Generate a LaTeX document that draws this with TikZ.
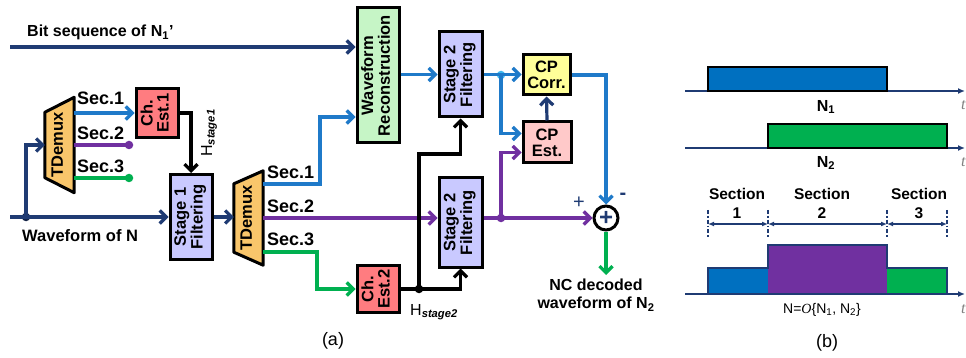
\documentclass[tikz,border=0pt]{standalone}
\usepackage{fontspec}
\setmainfont{Liberation Sans}
\newfontfamily\serifit{Liberation Serif}
\usepackage{graphicx}
\usetikzlibrary{arrows.meta,positioning,backgrounds,calc}
\definecolor{navy}{HTML}{1F3B73}
\definecolor{lblue}{HTML}{1F7AC9}
\definecolor{purp}{HTML}{7030A0}
\definecolor{grn}{HTML}{00B050}
\definecolor{sblue}{HTML}{0070C0}
\definecolor{dotblue}{HTML}{3DB8F0}
\definecolor{recfill}{HTML}{C6F5C6}
\definecolor{filtfill}{HTML}{C9C9FF}
\definecolor{chfill}{HTML}{FF7C80}
\definecolor{corrfill}{HTML}{FFFF99}
\definecolor{estfill}{HTML}{FFC9C9}
\definecolor{dmxfill}{HTML}{F9C66B}
\newcommand{\rottext}[1]{\rotatebox{90}{\begin{tabular}{@{}c@{}}#1\end{tabular}}}
\tikzset{
    blk/.style={draw, line width=3pt, inner sep=0pt, align=center,
        font=\bfseries\fontsize{16.5}{16}\selectfont},
    demux/.style={inner sep=0pt, minimum width=29pt,
        font=\bfseries\fontsize{16.5}{16}\selectfont},
    dmxshape/.style={draw, line width=3pt, fill=dmxfill, line join=round},
    sig/.style={line width=3.2pt, -{Straight Barb[length=6.5pt,width=13pt]}},
    wire/.style={line width=3.2pt},
    dot/.style={circle, fill, inner sep=0pt, minimum size=8.5pt},
    lbl/.style={inner sep=0pt, font=\bfseries\fontsize{16}{18}\selectfont},
    seclbl/.style={inner sep=0pt, anchor=base west, font=\bfseries\fontsize{18}{18}\selectfont}
}

\begin{document}
\begin{tikzpicture}[x=1pt, y=-1pt,
    axis/.style={navy, line width=2pt, -{Latex[length=7pt,width=6pt]}},
    dim/.style={navy, line width=1.8pt, {Latex[length=6pt,width=5pt]}-{Latex[length=6pt,width=5pt]}},
    tlbl/.style={inner sep=0pt, text=gray, font=\serifit\itshape\fontsize{16}{16}\selectfont}
]
\useasboundingbox (0,0) rectangle (966,358);

% receiver chain (a)
\node[demux, minimum height=95pt] (dmxA) at (59.5,145) {\rottext{TDemux}};
\node[blk, fill=chfill, minimum width=42pt, minimum height=49pt] (chA) at (157,113) {\rottext{Ch.\\Est.1}};
\node[blk, fill=filtfill, minimum width=42pt, minimum height=85pt] (fltA) at (191,217) {\rottext{Stage 1\\Filtering}};
\node[demux, minimum height=94pt] (dmxB) at (248.5,218) {\rottext{TDemux}};
\node[blk, fill=recfill, minimum width=42pt, minimum height=135pt] (rec) at (378,75.5) {\rottext{Waveform\\Reconstruction}};
\node[blk, fill=chfill, minimum width=42pt, minimum height=47pt] (chB) at (378,289) {\rottext{Ch.\\Est.2}};
\node[blk, fill=filtfill, minimum width=43pt, minimum height=85pt] (fltB) at (460.5,74.5) {\rottext{Stage 2\\Filtering}};
\node[blk, fill=filtfill, minimum width=43pt, minimum height=89pt] (fltC) at (460.5,222.5) {\rottext{Stage 2\\Filtering}};
\node[blk, fill=corrfill, minimum width=47pt, minimum height=40pt] (corr) at (546.5,75) {CP\\Corr.};
\node[blk, fill=estfill, minimum width=48pt, minimum height=41pt] (est) at (547,142.5) {CP\\Est.};
\node[circle, draw, fill=white, line width=3pt, minimum size=24pt, inner sep=0pt,
    text=navy, font=\bfseries\fontsize{24}{24}\selectfont] (sum) at (606,218) {+};

\begin{scope}[on background layer]
\draw[dmxshape] (dmxA.north east) -- (dmxA.south east) -- ([yshift=15pt]dmxA.south west)
    -- ([yshift=-15pt]dmxA.north west) -- cycle;
\draw[dmxshape] (dmxB.north east) -- (dmxB.south east) -- ([yshift=13pt]dmxB.south west)
    -- ([yshift=-13pt]dmxB.north west) -- cycle;
\end{scope}

\coordinate (bitin) at (10,47);
\coordinate (wfin) at (10,217);
\node[dot, navy!60!black] (jA) at (26,217) {};
\node[dot, purp] (eA2) at (129,145) {};
\node[dot, grn] (eA3) at (129,178) {};
\node[dot] (jB) at (419,289) {};
\node[dot, dotblue] (jC) at (501,75) {};
\node[dot, purp] (jD) at (501,218) {};
\coordinate (kB1) at (320,117);
\coordinate (kB3) at (317,252);
\coordinate (outp) at (606,275);

\node[lbl, anchor=base west] (lbit) at (27,37) {Bit sequence of N\textsubscript{1}’};
\node[lbl, anchor=base west, font=\bfseries\fontsize{16.5}{18}\selectfont] (lwf) at (22,241) {Waveform of N};
\node[seclbl] (sA1) at (77,105) {Sec.1};
\node[seclbl] (sA2) at (77,140) {Sec.2};
\node[seclbl] (sA3) at (77,173) {Sec.3};
\node[seclbl] (sB1) at (267,179) {Sec.1};
\node[seclbl] (sB2) at (267,212) {Sec.2};
\node[seclbl] (sB3) at (267,245) {Sec.3};
\node[lbl, rotate=90, font=\fontsize{16}{16}\selectfont] (hA) at (209,133) {H\textsubscript{\bfseries\itshape stage1}};
\node[lbl, font=\fontsize{16}{16}\selectfont] (hB) at (434,312) {H\textsubscript{\bfseries\itshape stage2}};
\node[lbl, text=navy, font=\fontsize{20}{20}\selectfont] (lplus) at (579,203) {+};
\node[lbl, text=navy, font=\bfseries\fontsize{20}{20}\selectfont] (lminus) at (623,196) {-};
\node[lbl, align=center, anchor=north] (lout) at (596,279) {NC decoded\\waveform of N\textsubscript{2}};
\node[inner sep=0pt, font=\fontsize{18}{18}\selectfont] (capa) at (333,341) {(a)};

\draw[sig, navy] (bitin) -- (bitin -| rec.west);
\draw[sig, navy] (wfin) -- (wfin -| fltA.west);
\draw[sig, navy] (jA.center) |- (dmxA.west);
\draw[sig, lblue] (dmxA.east |- chA.west) -- (chA.west);
\draw[wire, purp] (dmxA.east |- eA2) -- (eA2.center);
\draw[wire, grn] (dmxA.east |- eA3) -- (eA3.center);
\draw[sig] (chA.east) -| (fltA.north);
\draw[sig, navy] (fltA.east) -- (fltA.east -| dmxB.west);
\draw[sig, lblue] ([yshift=34pt]dmxB.east) -| (kB1) -- (kB1 -| rec.west);
\draw[sig, purp] (dmxB.east) -- (dmxB.east -| fltC.west);
\draw[sig, grn] ([yshift=-34pt]dmxB.east) -- (kB3) |- (chB.west);
\draw[sig] (chB.east) -| (fltC.south);
\draw[sig] (jB.center) -- ++(0,-135) -| (fltB.south);
\draw[sig, lblue] (rec.east |- fltB.west) -- (fltB.west);
\draw[sig, lblue] (fltB.east) -- (fltB.east -| corr.west);
\draw[sig, lblue] (jC.center) |- ([yshift=9pt]est.west);
\draw[sig, navy] (est.north) -- (corr.south);
\draw[sig, lblue] (corr.east) -| (sum.north);
\draw[sig, purp] (fltC.east |- sum.west) -- (sum.west);
\draw[sig, purp] (jD.center) |- ([yshift=-10pt]est.west);
\draw[sig, grn] (sum.south) -- (outp);

% timing diagram (b)
\draw[axis] (685,91) -- (965,91);
\draw[line width=1.8pt, fill=sblue] (708,67) rectangle (887,91);
\draw[axis] (685,148) -- (965,148);
\draw[line width=1.8pt, fill=grn] (768,124) rectangle (947,148);
\fill[sblue] (708,268) rectangle (768,294);
\fill[purp] (768,245) rectangle (887,294);
\fill[grn] (887,268) rectangle (947,294);
\draw[navy, line width=2pt] (708,294) -- (708,268) -- (768,268) -- (768,245) -- (887,245)
    -- (887,268) -- (947,268) -- (947,294);
\draw[axis] (685,294) -- (965,294);
\foreach \xx in {708,768,887,947}
    \draw[navy, line width=1.4pt, dash pattern=on 4pt off 2pt on 1.5pt off 2pt] (\xx,210) -- (\xx,237);
\draw[dim] (708,224) -- (768,224);
\draw[dim] (768,224) -- (887,224);
\draw[dim] (887,224) -- (947,224);
\node[lbl] (ln1) at (826,107) {N\textsubscript{1}};
\node[lbl] (ln2) at (826,163) {N\textsubscript{2}};
\node[lbl, align=center, font=\bfseries\fontsize{15.5}{19}\selectfont] (sec1) at (737,203) {Section\\1};
\node[lbl, align=center, font=\bfseries\fontsize{15.5}{19}\selectfont] (sec2) at (822,203) {Section\\2};
\node[lbl, align=center, font=\bfseries\fontsize{15.5}{19}\selectfont] (sec3) at (919,203) {Section\\3};
\node[inner sep=0pt, font=\fontsize{14}{14}\selectfont] (lmix) at (822,310) {N={\serifit\itshape O}\{N\textsubscript{1}, N\textsubscript{2}\}};
\node[tlbl, anchor=west] (t1) at (961,105) {t};
\node[tlbl, anchor=west] (t2) at (961,162) {t};
\node[tlbl, anchor=west] (t3) at (961,309) {t};
\node[inner sep=0pt, font=\fontsize{18}{18}\selectfont] (capb) at (827,343) {(b)};
\end{tikzpicture}
\end{document}
